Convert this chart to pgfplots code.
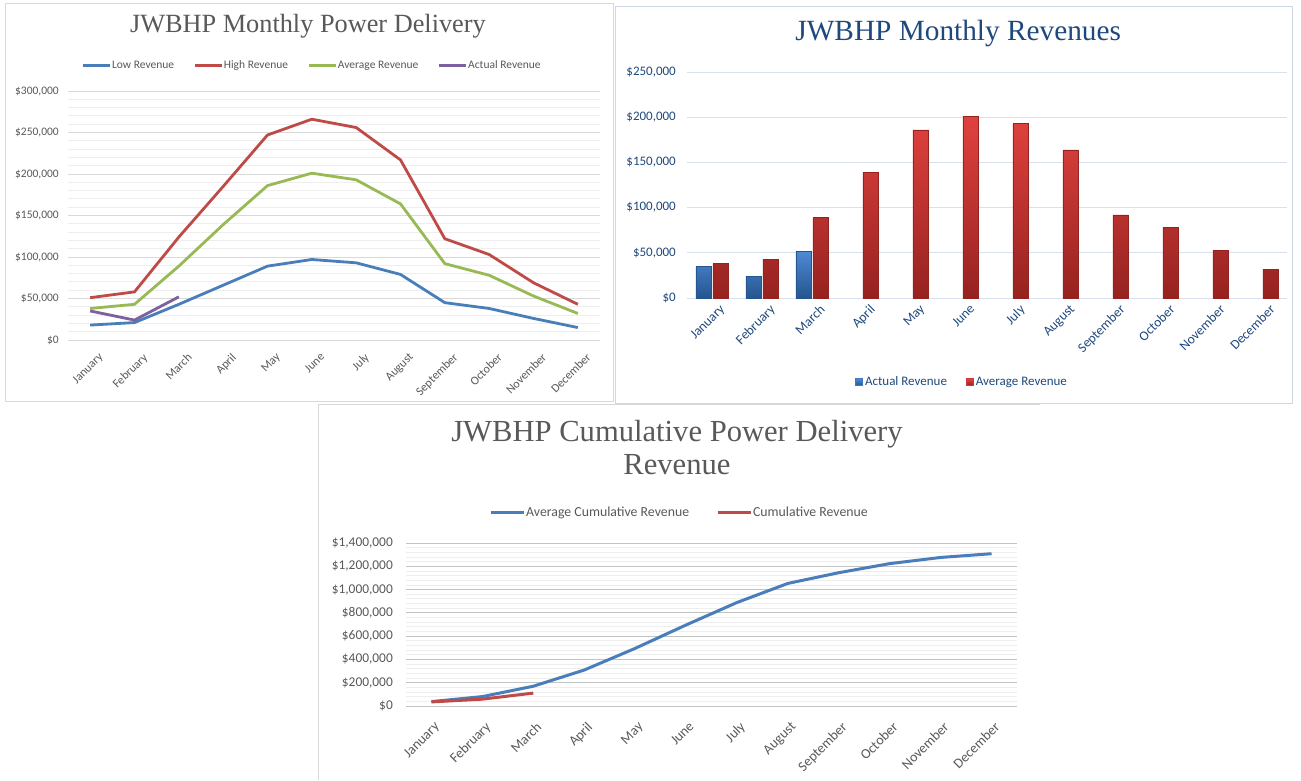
\documentclass[border=0pt]{standalone}
\usepackage{pgfplots}
\pgfplotsset{compat=1.18}
\usepackage{pgfplotstable}
\usepackage{fontspec}
\setmainfont{Carlito}
\newfontfamily\titlefont{Liberation Serif}
\definecolor{lowc}{HTML}{4A7EBB}
\definecolor{highc}{HTML}{BE4B48}
\definecolor{avgc}{HTML}{98B954}
\definecolor{actc}{HTML}{7D60A0}
\definecolor{txtgrey}{HTML}{595959}
\definecolor{gridmaj}{HTML}{D9D9D9}
\definecolor{gridmin}{HTML}{EEEEEE}
\definecolor{navy}{HTML}{1F497D}
\definecolor{barblue1}{HTML}{4F8AD6}
\definecolor{barblue2}{HTML}{24558F}
\definecolor{barred1}{HTML}{E0423E}
\definecolor{barred2}{HTML}{962220}
\definecolor{grid2}{HTML}{D7E0EC}
\definecolor{panelgrey}{HTML}{D9D9D9}
\definecolor{panelblue}{HTML}{CDD8E6}

\pgfplotstableread{
m low high avg
0 18000 51000 38000
1 21000 58000 43000
2 43000 124000 89000
3 66000 185000 139000
4 89000 247000 186000
5 97000 266000 201000
6 93000 256000 193000
7 79000 217000 164000
8 45000 122000 92000
9 38000 103000 78000
10 26000 69000 53000
11 15000 43000 32000
}\monthly
\pgfplotstableread{
m act
0 35000
1 24000
2 52000
}\actual
\pgfplotstableread{
m avgcum
0 38000
1 81000
2 170000
3 309000
4 495000
5 696000
6 889000
7 1053000
8 1145000
9 1223000
10 1276000
11 1308000
}\cumavg
\pgfplotstableread{
m cum
0 35000
1 59000
2 111000
}\cumact

\pgfplotsset{
  excelaxis/.style={
    scale only axis, anchor=south west,
    xmin=-0.5, xmax=11.5, ymin=0,
    xtick={0,...,11},
    xticklabels={January,February,March,April,May,June,July,August,September,October,November,December},
    x tick label style={rotate=45, anchor=north east, inner sep=0pt},
    yticklabel style={anchor=east, inner sep=0pt},
    major tick length=0pt, minor tick length=0pt,
    axis line style={draw=none},
    scaled y ticks=false,
    ymajorgrids,
    clip=false,
    legend cell align=left,
  }
}

\begin{document}
\begin{tikzpicture}
\useasboundingbox (0pt,0pt) rectangle (1301pt,-780pt);
\fill[white] (0pt,0pt) rectangle (1301pt,-780pt);
\draw[panelgrey, line width=1pt] (5pt,-3pt) rectangle (613pt,-401pt);
\draw[panelblue, line width=1pt] (615pt,-6pt) rectangle (1292pt,-403pt);
\draw[panelgrey, line width=1pt] (318pt,-780pt) -- (318pt,-404pt) -- (1040pt,-404pt);

% ---------- Chart 1 ----------
\begin{axis}[excelaxis,
  at={(68pt,-340pt)}, width=532pt, height=249pt,
  ymax=300000,
  ytick={0,50000,100000,150000,200000,250000,300000},
  yticklabels={{\$0},{\$50,000},{\$100,000},{\$150,000},{\$200,000},{\$250,000},{\$300,000}},
  minor y tick num=4, yminorgrids,
  major grid style={draw=gridmaj, line width=1pt},
  minor grid style={draw=gridmin, line width=1pt},
  yticklabel style={xshift=-9pt, font=\fontsize{11.5}{13}\selectfont, text=txtgrey},
  x tick label style={font=\fontsize{12}{14}\selectfont, text=txtgrey, xshift=-3pt, yshift=-14pt},
  title={JWBHP Monthly Power Delivery},
  title style={at={(0.451,1.237)}, anchor=center, font=\titlefont\fontsize{26.3}{30}\selectfont, text=txtgrey},
  legend style={at={(0.4577,1.104)}, anchor=center, draw=none, fill=none, legend columns=4,
    font=\fontsize{11.5}{13}\selectfont, text=txtgrey,
    nodes={inner sep=1pt},
    /tikz/every even column/.append style={column sep=18pt}},
  legend image code/.code={\draw[#1] (0pt,0pt) -- (27pt,0pt);},
]
\addplot[lowc, line width=2.8pt] table[x=m, y=low] {\monthly};
\addlegendentry{Low Revenue}
\addplot[highc, line width=2.8pt] table[x=m, y=high] {\monthly};
\addlegendentry{High Revenue}
\addplot[avgc, line width=2.8pt] table[x=m, y=avg] {\monthly};
\addlegendentry{Average Revenue}
\addplot[actc, line width=2.8pt] table[x=m, y=act] {\actual};
\addlegendentry{Actual Revenue}
\end{axis}

% ---------- Chart 2 ----------
\begin{axis}[excelaxis,
  at={(687pt,-298pt)}, width=600pt, height=226pt,
  ymax=250000,
  ytick={0,50000,100000,150000,200000,250000},
  yticklabels={{\$0},{\$50,000},{\$100,000},{\$150,000},{\$200,000},{\$250,000}},
  major grid style={draw=grid2, line width=1pt},
  yticklabel style={xshift=-11pt, font=\fontsize{13}{15}\selectfont, text=navy},
  x tick label style={font=\fontsize{13.5}{15}\selectfont, text=navy, xshift=1pt, yshift=-9pt},
  title={JWBHP Monthly Revenues},
  title style={at={(0.452,1.142)}, anchor=center, font=\titlefont\fontsize{29.3}{33}\selectfont, text=navy},
  legend style={at={(0.4575,-0.372)}, anchor=center, draw=none, fill=none, legend columns=2,
    font=\fontsize{13}{15}\selectfont, text=navy,
    nodes={inner sep=1pt},
    /tikz/every even column/.append style={column sep=18pt}},
]
\addplot[ybar, bar width=15.5pt, bar shift=-8.5pt, draw=barblue2, line width=0.4pt,
  top color=barblue1, bottom color=barblue2,
  legend image code/.code={\fill[barblue1!70!barblue2] (0pt,-3.5pt) rectangle (7pt,3.5pt); \path (8.5pt,0pt);}]
  table[x=m, y=act] {\actual};
\addlegendentry{Actual Revenue}
\addplot[ybar, bar width=15.5pt, bar shift=8.5pt, draw=barred2, line width=0.4pt,
  top color=barred1, bottom color=barred2,
  legend image code/.code={\fill[barred1!75!barred2] (0pt,-3.5pt) rectangle (7pt,3.5pt); \path (8.5pt,0pt);}]
  table[x=m, y=avg] {\monthly};
\addlegendentry{Average Revenue}
\end{axis}

% ---------- Chart 3 ----------
\begin{axis}[excelaxis,
  at={(406pt,-706pt)}, width=611pt, height=163pt,
  ymax=1400000,
  ytick={0,200000,400000,600000,800000,1000000,1200000,1400000},
  yticklabels={{\$0},{\$200,000},{\$400,000},{\$600,000},{\$800,000},{\$1,000,000},{\$1,200,000},{\$1,400,000}},
  minor y tick num=4, yminorgrids,
  major grid style={draw=gridmaj!90!black, line width=1pt},
  minor grid style={draw=gridmin, line width=0.8pt},
  yticklabel style={xshift=-13pt, font=\fontsize{13.4}{15}\selectfont, text=txtgrey},
  x tick label style={font=\fontsize{14}{16}\selectfont, text=txtgrey, xshift=-9pt, yshift=-12pt},
  title={JWBHP Cumulative Power Delivery\\Revenue},
  title style={at={(0.4435,1.549)}, anchor=center, align=center, font=\titlefont\fontsize{30.6}{33}\selectfont, text=txtgrey},
  legend style={at={(0.4468,1.19)}, anchor=center, draw=none, fill=none, legend columns=2,
    font=\fontsize{13.8}{15}\selectfont, text=txtgrey,
    nodes={inner sep=1pt},
    /tikz/every even column/.append style={column sep=26pt}},
  legend image code/.code={\draw[#1] (0pt,0pt) -- (33pt,0pt);},
]
\addplot[lowc, line width=3pt] table[x=m, y=avgcum] {\cumavg};
\addlegendentry{Average Cumulative Revenue}
\addplot[highc, line width=3pt] table[x=m, y=cum] {\cumact};
\addlegendentry{Cumulative Revenue}
\end{axis}
\end{tikzpicture}
\end{document}
